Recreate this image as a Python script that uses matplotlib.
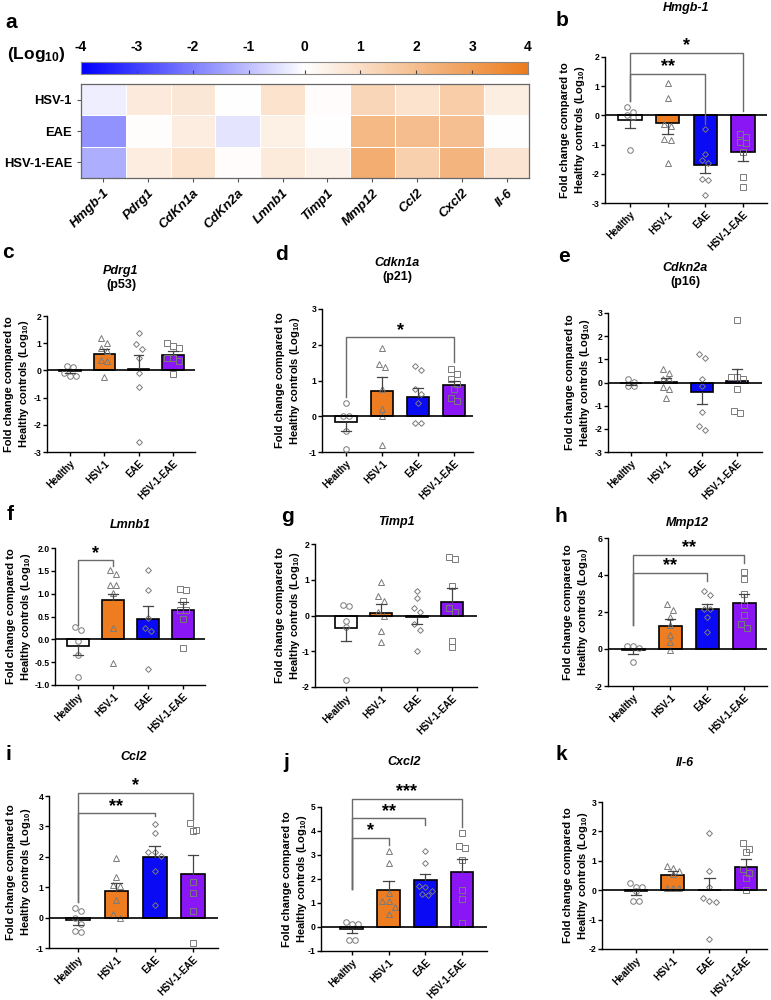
import numpy as np
import matplotlib.pyplot as plt
from matplotlib.colors import LinearSegmentedColormap

plt.rcParams['font.family'] = ['Liberation Sans', 'DejaVu Sans']
plt.rcParams['font.weight'] = 'bold'
plt.rcParams['axes.unicode_minus'] = False
plt.rcParams['mathtext.fontset'] = 'custom'
plt.rcParams['mathtext.bf'] = 'Liberation Sans:bold'
plt.rcParams['mathtext.rm'] = 'Liberation Sans:bold'
plt.rcParams['mathtext.default'] = 'bf'

groups = ['Healthy', 'HSV-1', 'EAE', 'HSV-1-EAE']
bar_colors = ['white', '#EE7D22', '#0A0AF5', '#8A16F5']
markers = ['o', '^', 'D', 's']
msizes = [4, 4.2, 3, 4.2]

# ---- values (log10 fold change) ----
hmgb1_pts = [[0.0, 0.28, 0.1, -0.05, -1.18],
             [1.1, 0.58, -0.28, -0.36, -0.8, -0.85, -1.62],
             [-0.48, -1.31, -1.54, -1.64, -2.19, -2.22, -2.72],
             [-0.65, -0.75, -0.9, -0.95, -1.25, -2.1, -2.45]]
hmgb1_mean = [-0.17, -0.27, -1.7, -1.27]
hmgb1_sem = [0.26, 0.36, 0.28, 0.28]

pdrg1_pts = [[-0.2, 0.17, -0.11, 0.12, -0.2],
             [1.2, 1.0, 0.82, 0.71, 0.39, 0.34, -0.25],
             [1.39, 0.98, 0.78, 0.46, -0.1, -0.62, -2.65],
             [1.0, 0.9, 0.82, 0.47, 0.45, 0.33, -0.12]]
pdrg1_mean = [-0.04, 0.6, 0.04, 0.55]
pdrg1_sem = [0.07, 0.19, 0.51, 0.16]

cdkn1a_pts = [[0.38, 0.0, 0.01, -0.4, -0.91],
              [1.92, 1.39, 1.46, 0.77, 0.2, 0.01, -0.81],
              [1.41, 1.3, 0.77, 0.62, 0.36, -0.2, -0.18],
              [1.31, 1.18, 1.05, 0.9, 0.76, 0.43, 0.52]]
cdkn1a_mean = [-0.17, 0.72, 0.55, 0.87]
cdkn1a_sem = [0.23, 0.37, 0.25, 0.13]

cdkn2a_pts = [[-0.14, 0.17, 0.03, -0.14],
              [0.6, 0.42, 0.17, 0.13, -0.19, -0.26, -0.69],
              [1.22, 1.06, 0.16, -0.16, -1.29, -1.87, -2.05],
              [2.71, 0.22, 0.15, 0.24, -0.26, -1.31, -1.22]]
cdkn2a_mean = [-0.02, 0.03, -0.42, 0.07]
cdkn2a_sem = [0.07, 0.15, 0.51, 0.5]

lmnb1_pts = [[0.27, 0.2, -0.04, -0.34, -0.83],
             [1.52, 1.43, 1.19, 1.19, 1.01, 0.25, -0.52],
             [1.51, 1.07, 0.47, 0.24, 0.18, -0.66],
             [1.1, 1.07, 0.85, 0.64, 0.65, 0.44, -0.18]]
lmnb1_mean = [-0.14, 0.87, 0.45, 0.65]
lmnb1_sem = [0.21, 0.13, 0.27, 0.17]

timp1_pts = [[0.3, 0.27, -0.15, -0.33, -1.8],
             [0.94, 0.55, 0.41, 0.1, 0.0, -0.43, -0.75],
             [0.69, 0.5, 0.2, 0.11, -0.24, -0.4, -0.99],
             [1.65, 1.57, 0.83, 0.22, 0.11, -0.7, -0.88]]
timp1_mean = [-0.34, 0.08, -0.03, 0.38]
timp1_sem = [0.38, 0.24, 0.21, 0.39]

mmp12_pts = [[0.14, 0.05, 0.14, -0.7],
             [2.45, 2.1, 1.75, 1.32, 0.74, 0.38, -0.03],
             [3.15, 2.9, 2.16, 2.16, 1.73, 0.9],
             [4.18, 3.77, 3.0, 2.4, 1.82, 1.37, 1.12]]
mmp12_mean = [-0.07, 1.25, 2.15, 2.5]
mmp12_sem = [0.18, 0.35, 0.27, 0.47]

ccl2_pts = [[0.21, 0.3, 0.0, -0.2, -0.49, -0.44],
            [1.97, 1.32, 1.06, 1.04, 0.58, 0.0, 0.11],
            [3.09, 2.79, 2.15, 2.15, 2.02, 1.54, 0.42],
            [3.1, 2.85, 2.88, 1.17, 0.8, 0.21, -0.83]]
ccl2_mean = [-0.08, 0.87, 2.0, 1.45]
ccl2_sem = [0.15, 0.28, 0.35, 0.6]

cxcl2_pts = [[0.21, 0.11, 0.14, -0.53, -0.53],
             [3.17, 2.67, 1.42, 1.08, 1.08, 0.83, 0.56],
             [3.17, 2.68, 1.67, 1.69, 1.5, 1.32, 1.36],
             [3.9, 3.31, 3.39, 2.78, 1.54, 1.17, 0.15]]
cxcl2_mean = [-0.1, 1.55, 1.95, 2.3]
cxcl2_sem = [0.16, 0.37, 0.27, 0.55]

il6_pts = [[0.11, 0.23, 0.12, -0.02, -0.36, -0.36],
           [0.83, 0.77, 0.66, 0.55, 0.08, 0.08, 0.08],
           [1.94, 0.66, 0.11, -0.27, -0.39, -0.36, -1.66],
           [1.6, 1.31, 1.39, 0.73, 0.57, 0.42, 0.0]]
il6_mean = [-0.04, 0.52, 0.01, 0.8]
il6_sem = [0.14, 0.13, 0.41, 0.26]

# significance brackets: (group a, group b, top, leg a bottom, leg b bottom, label)
hmgb1_sig = [(0, 2, 1.43, 0.5, -0.3, '**'), (0, 3, 2.15, 0.5, 0.15, '*')]
cdkn1a_sig = [(0, 3, 2.21, 0.55, 1.53, '*')]
lmnb1_sig = [(0, 1, 1.73, 0.32, 1.6, '*')]
mmp12_sig = [(0, 2, 4.11, 1.3, 3.7, '**'), (0, 3, 5.1, 1.3, 4.65, '**')]
ccl2_sig = [(0, 2, 3.43, 0.5, 3.33, '**'), (0, 3, 4.11, 0.5, 3.23, '*')]
cxcl2_sig = [(0, 1, 3.72, 1.6, 3.43, '*'), (0, 2, 4.53, 1.6, 4.24, '**'),
             (0, 3, 5.35, 1.6, 4.17, '***')]

genes = ['Hmgb-1', 'Pdrg1', 'CdKn1a', 'CdKn2a', 'Lmnb1', 'Timp1', 'Mmp12', 'Ccl2', 'Cxcl2', 'Il-6']
heat_rows = ['HSV-1', 'EAE', 'HSV-1-EAE']
gene_means = [hmgb1_mean, pdrg1_mean, cdkn1a_mean, cdkn2a_mean, lmnb1_mean,
              timp1_mean, mmp12_mean, ccl2_mean, cxcl2_mean, il6_mean]

W, H = 771, 1000
fig = plt.figure(figsize=(W / 100, H / 100), dpi=100)


def box(x0, x1, y0, y1):
    return [x0 / W, 1 - y1 / H, (x1 - x0) / W, (y1 - y0) / H]


def ftext(x, y, s, **kw):
    fig.text(x / W, 1 - y / H, s, ha='center', va='center', **kw)


# ---------------- panel a: heatmap ----------------
cmap = LinearSegmentedColormap.from_list('bwo', ['#0000FF', '#FFFFFF', '#EC7D1E'])
heat = np.array([[m[k] for m in gene_means] for k in range(1, 4)])

cax = fig.add_axes(box(81, 528, 62, 74))
cax.imshow(np.linspace(-4, 4, 400)[None, :], cmap=cmap, vmin=-4, vmax=4,
           aspect='auto', extent=(-4, 4, 0, 1))
cax.set_xticks(range(-4, 5))
cax.set_yticks([])
cax.tick_params(axis='x', top=False, labeltop=True, bottom=True, labelbottom=False,
                direction='in', length=3, color='#444', labelsize=10, pad=6)
for s in cax.spines.values():
    s.set_color('#888')
    s.set_linewidth(0.8)
ftext(36, 54, '(Log$_{10}$)', fontsize=12.5, fontweight='bold')
ftext(11, 22, 'a', fontsize=15, fontweight='bold')

hax = fig.add_axes(box(81, 529, 84, 178))
hax.pcolormesh(heat, cmap=cmap, vmin=-4, vmax=4, edgecolors='white', linewidth=0.6)
hax.set_xlim(0, len(genes))
hax.set_ylim(len(heat_rows), 0)
hax.set_xticks(np.arange(len(genes)) + 0.5)
hax.set_xticklabels(genes, rotation=45, ha='right', rotation_mode='anchor',
                    fontsize=9.5, fontstyle='italic', fontweight='bold')
hax.set_yticks(np.arange(len(heat_rows)) + 0.5)
hax.set_yticklabels(heat_rows, fontsize=9.4, fontweight='bold')
hax.tick_params(length=3, color='#555', width=0.8)
for s in hax.spines.values():
    s.set_color('#666')
    s.set_linewidth(0.9)


# ---------------- bar panels ----------------
def spread(vals, thr, step):
    order = np.argsort(vals)[::-1]
    offs = np.zeros(len(vals))
    grp = []
    for idx in list(order) + [None]:
        if idx is not None and grp and vals[grp[0]] - vals[idx] < thr:
            grp.append(idx)
            continue
        n = len(grp)
        for k, g in enumerate(grp):
            offs[g] = (k - (n - 1) / 2) * step
        grp = [idx] if idx is not None else []
    return offs


def bar_panel(spec):
    x0, x1, y0, y1 = spec['box']
    ax = fig.add_axes(box(x0, x1, y0, y1))
    lo, hi = spec['ylim']
    rng = hi - lo
    xs = np.arange(4)
    ax.bar(xs, spec['mean'], width=0.62, color=bar_colors, edgecolor='black',
           linewidth=1.2, zorder=2)
    for i in range(4):
        vals = np.array(spec['pts'][i])
        off = spread(vals, 0.045 * rng, 0.17)
        ax.plot(i + off, vals, linestyle='none', marker=markers[i], ms=msizes[i],
                mfc='none', mec='#7a7a7a', mew=0.7, zorder=3)
        m, e = spec['mean'][i], spec['sem'][i]
        end = m + e if m >= 0 else m - e
        ax.plot([i, i], [m, end], color='#444', lw=0.9, zorder=4)
        ax.plot([i - 0.14, i + 0.14], [end, end], color='#444', lw=0.9, zorder=4)
    ax.axhline(0, color='black', lw=1.2, zorder=5)
    for a, b, top, la, lb, txt in spec.get('sig', []):
        ax.plot([a, a, b, b], [la, top, top, lb], color='#6a6a6a', lw=1.0,
                zorder=6, clip_on=False)
        ax.annotate(txt, xy=((a + b) / 2, top), xytext=(0, -1),
                    textcoords='offset points', ha='center', va='bottom',
                    fontsize=13, fontweight='bold', annotation_clip=False)
    ax.set_ylim(lo, hi)
    ax.set_xlim(*spec['xlim'])
    ticks = np.arange(lo, hi + 1e-9, spec['step'])
    ax.set_yticks(ticks)
    if spec['step'] < 1:
        ax.set_yticklabels(['%.1f' % t for t in ticks])
    else:
        ax.set_yticklabels(['%d' % t for t in ticks])
    ax.set_xticks(xs)
    ax.set_xticklabels(groups, rotation=45, ha='right', rotation_mode='anchor',
                       fontsize=6.9, fontweight='bold')
    ax.tick_params(axis='y', labelsize=6.2, length=3, width=1, pad=1)
    ax.tick_params(axis='x', length=3, width=1, pad=1.5)
    for s in ('top', 'right'):
        ax.spines[s].set_visible(False)
    for s in ('left', 'bottom'):
        ax.spines[s].set_linewidth(1.0)
    ax.set_ylabel('Fold change compared to\nHealthy controls (Log$_{10}$)',
                  fontsize=8, fontweight='bold', linespacing=1.3)
    # label right edge sits 'lab' pixels left of the y spine
    ax.yaxis.set_label_coords(-spec['lab'] / (x1 - x0), 0.5)
    cx = (x0 + x1) / 2
    ty = spec['title_y']
    ftext(cx, ty, spec['name'], fontsize=9, fontstyle='italic', fontweight='bold')
    if spec.get('sub'):
        ftext(cx, ty + 14, spec['sub'], fontsize=9, fontweight='bold')
    lx, ly = spec['letter_xy']
    ftext(lx, ly, spec['letter'], fontsize=15, fontweight='bold')


panels = [
    dict(letter='b', name='Hmgb-1', pts=hmgb1_pts, mean=hmgb1_mean, sem=hmgb1_sem,
         sig=hmgb1_sig, box=(605, 767, 57, 203), ylim=(-3, 2), step=1,
         xlim=(-0.66, 3.64), lab=18, title_y=8, letter_xy=(562, 21)),
    dict(letter='c', name='Pdrg1', sub='(p53)', pts=pdrg1_pts, mean=pdrg1_mean,
         sem=pdrg1_sem, box=(47, 195, 316, 452), ylim=(-3, 2), step=1,
         xlim=(-0.67, 3.64), lab=16, title_y=271, letter_xy=(8, 253)),
    dict(letter='d', name='Cdkn1a', sub='(p21)', pts=cdkn1a_pts, mean=cdkn1a_mean,
         sem=cdkn1a_sem, sig=cdkn1a_sig, box=(322, 473, 309, 452), ylim=(-1, 3),
         step=1, xlim=(-0.67, 3.53), lab=20, title_y=263, letter_xy=(282, 255)),
    dict(letter='e', name='Cdkn2a', sub='(p16)', pts=cdkn2a_pts, mean=cdkn2a_mean,
         sem=cdkn2a_sem, box=(608, 762, 313, 452), ylim=(-3, 3), step=1,
         xlim=(-0.65, 3.71), lab=16, title_y=268, letter_xy=(564, 257)),
    dict(letter='f', name='Lmnb1', pts=lmnb1_pts, mean=lmnb1_mean, sem=lmnb1_sem,
         sig=lmnb1_sig, box=(55, 205, 548, 685), ylim=(-1, 2), step=0.5,
         xlim=(-0.66, 3.63), lab=22, title_y=525, letter_xy=(10, 514)),
    dict(letter='g', name='Timp1', pts=timp1_pts, mean=timp1_mean, sem=timp1_sem,
         box=(315, 477, 544, 687), ylim=(-2, 2), step=1,
         xlim=(-0.87, 3.7), lab=13, title_y=522, letter_xy=(287, 517)),
    dict(letter='h', name='Mmp12', pts=mmp12_pts, mean=mmp12_mean, sem=mmp12_sem,
         sig=mmp12_sig, box=(608, 767, 538, 686), ylim=(-2, 6), step=2,
         xlim=(-0.68, 3.62), lab=18, title_y=523, letter_xy=(561, 516)),
    dict(letter='i', name='Ccl2', pts=ccl2_pts, mean=ccl2_mean, sem=ccl2_sem,
         sig=ccl2_sig, box=(49, 218, 796, 948), ylim=(-1, 4), step=1,
         xlim=(-0.76, 3.65), lab=16, title_y=757, letter_xy=(8, 755)),
    dict(letter='j', name='Cxcl2', pts=cxcl2_pts, mean=cxcl2_mean, sem=cxcl2_sem,
         sig=cxcl2_sig, box=(321, 487, 807, 951), ylim=(-1, 5), step=1,
         xlim=(-0.84, 3.68), lab=12, title_y=762, letter_xy=(286, 762)),
    dict(letter='k', name='Il-6', pts=il6_pts, mean=il6_mean, sem=il6_sem,
         box=(602, 767, 802, 949), ylim=(-2, 3), step=1,
         xlim=(-0.93, 3.57), lab=12, title_y=763, letter_xy=(561, 755)),
]

for p in panels:
    bar_panel(p)

fig.savefig('out.png', dpi=100)
